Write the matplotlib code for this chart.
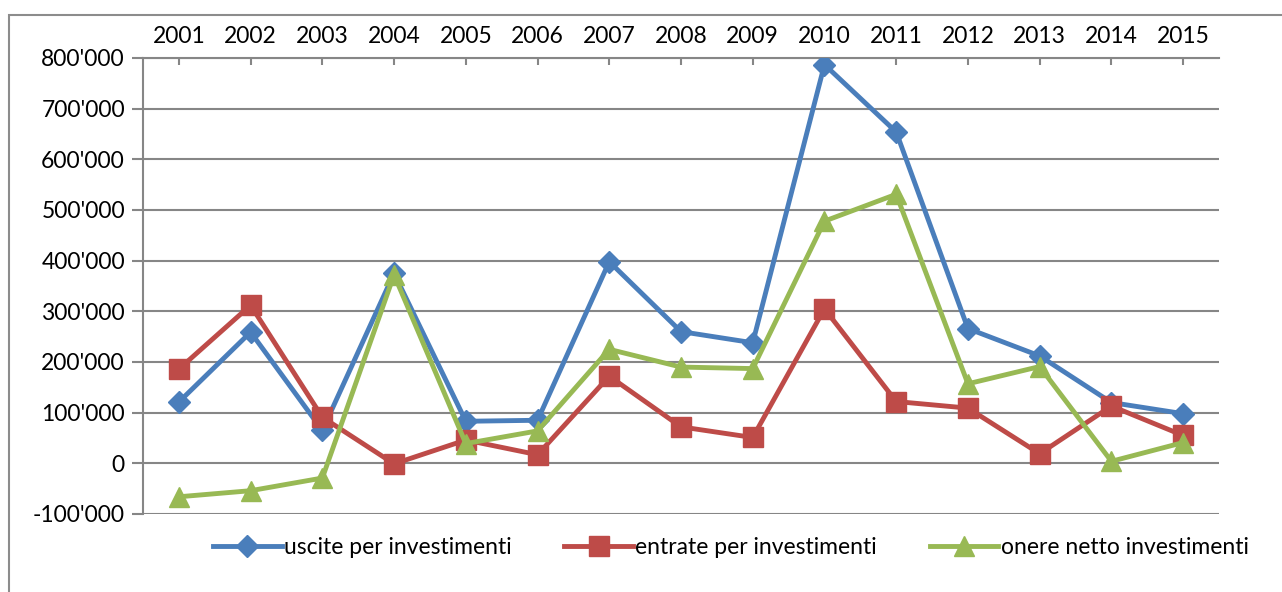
import matplotlib.pyplot as plt
from matplotlib.ticker import FuncFormatter
from matplotlib.patches import Rectangle

years = ['2001', '2002', '2003', '2004', '2005', '2006', '2007', '2008',
         '2009', '2010', '2011', '2012', '2013', '2014', '2015']
uscite = [121000, 259000, 65000, 375000, 83000, 85000, 398000, 260000,
          238000, 787000, 654000, 266000, 212000, 120000, 98000]
entrate = [186000, 312000, 91000, -1000, 46000, 17000, 172000, 72000,
           51000, 305000, 122000, 109000, 19000, 113000, 55000]
onere = [-66000, -54000, -29000, 372000, 39000, 64000, 225000, 190000,
         187000, 478000, 531000, 157000, 191000, 4000, 41000]
labels = ['uscite per investimenti', 'entrate per investimenti', 'onere netto investimenti']

plt.rcParams['font.family'] = ['Lato', 'DejaVu Sans']

fig = plt.figure(figsize=(12.82, 5.92), dpi=100)
ax = fig.add_axes([143 / 1282, 1 - 514 / 592, (1219 - 143) / 1282, (514 - 58) / 592])

# outer chart frame
fig.patches.append(Rectangle((9 / 1282, -0.1), 1.2, 1 - 15 / 592 + 0.1,
                             transform=fig.transFigure, fill=False,
                             edgecolor='#8c8c8c', lw=1.5))

x = range(1, len(years) + 1)
ax.plot(x, uscite, color='#4A7EBB', lw=3.5, marker='D', ms=11, label=labels[0], zorder=3)
ax.plot(x, entrate, color='#BE4B48', lw=3.5, marker='s', ms=14, label=labels[1], zorder=3)
ax.plot(x, onere, color='#98B954', lw=3.5, marker='^', ms=14, label=labels[2], zorder=3)

ax.set_xlim(0.5, 15.5)
ax.set_ylim(-100000, 800000)
ax.set_yticks(range(-100000, 800001, 100000))
ax.yaxis.set_major_formatter(FuncFormatter(lambda v, p: f"{int(v):,}".replace(',', "'")))
ax.set_xticks(list(x))
ax.set_xticklabels(years)
ax.xaxis.tick_top()
ax.tick_params(axis='x', direction='in', length=5, color='#868686', width=1.5,
               labelsize=16.5, pad=8)
ax.tick_params(axis='y', direction='out', length=8, color='#868686', width=1.5,
               labelsize=16.5, pad=5)
ax.grid(axis='y', color='#868686', lw=1.5)
ax.set_axisbelow(True)
for s in ['right', 'bottom']:
    ax.spines[s].set_visible(False)
for s in ['left', 'top']:
    ax.spines[s].set_color('#868686')
    ax.spines[s].set_linewidth(1.5)

fig.legend(loc='center', bbox_to_anchor=(0.57, 1 - 548 / 592), ncol=3, frameon=False,
           fontsize=16.5, handlelength=3.0, handletextpad=0.1, columnspacing=2.3)

fig.savefig('out.png', dpi=100)
